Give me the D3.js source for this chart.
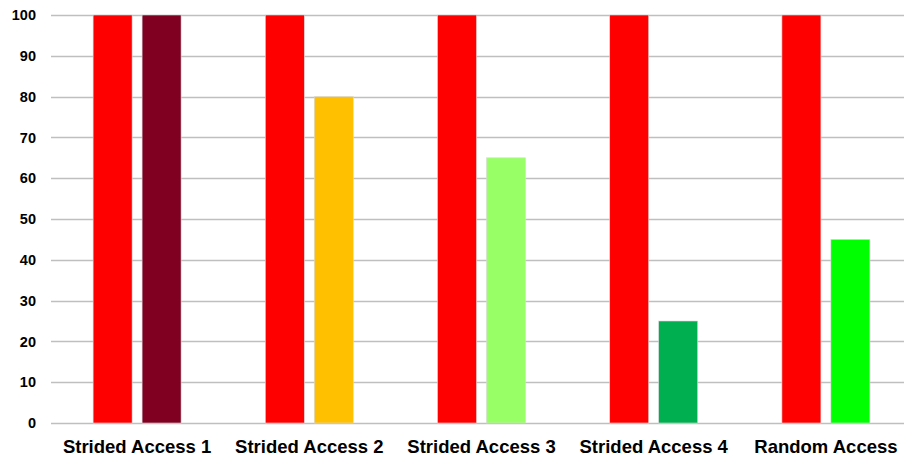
<!DOCTYPE html>
<html>
<head>
<meta charset="utf-8">
<script src="https://cdn.jsdelivr.net/npm/d3@7"></script>
<style>
  html, body { margin: 0; padding: 0; background: #fff; }
  svg { display: block; font-family: "Liberation Sans", Arial, sans-serif; }
</style>
</head>
<body>
<svg id="chart" width="904" height="457"></svg>
<script>
// Access patterns along the x axis
const categories = ["Strided Access 1", "Strided Access 2", "Strided Access 3", "Strided Access 4", "Random Access"];
// Baseline (always 100) and the measured value per pattern
const baselineValues = [100, 100, 100, 100, 100];
const measuredValues = [100, 80, 65, 25, 45];
// Colour of the measured bar for each pattern
const measuredColors = ["#7f0021", "#ffc000", "#99ff66", "#00b050", "#00ff00"];
const yTicks = [0, 10, 20, 30, 40, 50, 60, 70, 80, 90, 100];

const svg = d3.select("#chart");
const margin = { left: 51, right: -8, top: 15, bottom: 34 };
const W = 904, H = 457;
const innerW = W - margin.left - margin.right;
const innerH = H - margin.top - margin.bottom;

const x = d3.scaleBand().domain(categories).range([margin.left, margin.left + innerW]).padding(0);
const y = d3.scaleLinear().domain([0, 100]).range([margin.top + innerH, margin.top]);

// Horizontal gridlines
svg.append("g")
  .selectAll("line")
  .data(yTicks)
  .join("line")
  .attr("x1", margin.left)
  .attr("x2", W)
  .attr("y1", d => Math.round(y(d)) + 0.5)
  .attr("y2", d => Math.round(y(d)) + 0.5)
  .attr("stroke", "#bfbfbf")
  .attr("stroke-width", 1.3);

// Y axis tick labels
const yAxis = d3.axisLeft(y).tickValues(yTicks).tickSize(0).tickPadding(15);
svg.append("g")
  .attr("transform", `translate(${margin.left},0)`)
  .call(yAxis)
  .call(g => g.select(".domain").remove())
  .call(g => g.selectAll("text")
    .attr("font-family", "Liberation Sans, Arial, sans-serif")
    .attr("font-size", 14.5)
    .attr("font-weight", "bold")
    .attr("fill", "#000"));

// Bars inside each group
const inner = d3.scaleBand().domain(["base", "measured"]).range([0, x.bandwidth()]).paddingInner(0.204).paddingOuter(0.86);

const rows = categories.map((c, i) => ({ c, base: baselineValues[i], measured: measuredValues[i], color: measuredColors[i] }));

const groups = svg.append("g").selectAll("g").data(rows).join("g")
  .attr("transform", d => `translate(${x(d.c)},0)`);

groups.append("rect")
  .attr("x", inner("base"))
  .attr("width", inner.bandwidth())
  .attr("y", d => y(d.base))
  .attr("height", d => y(0) - y(d.base))
  .attr("fill", "#ff0000")
  .attr("stroke", "#d9d9d9")
  .attr("stroke-width", 0.6);

groups.append("rect")
  .attr("x", inner("measured"))
  .attr("width", inner.bandwidth())
  .attr("y", d => y(d.measured))
  .attr("height", d => y(0) - y(d.measured))
  .attr("fill", d => d.color)
  .attr("stroke", "#d9d9d9")
  .attr("stroke-width", 0.6);

// Category labels
const xAxis = d3.axisBottom(x).tickSize(0).tickPadding(16.5);
svg.append("g")
  .attr("transform", `translate(0,${margin.top + innerH})`)
  .call(xAxis)
  .call(g => g.select(".domain").remove())
  .call(g => g.selectAll("text")
    .attr("font-family", "Liberation Sans, Arial, sans-serif")
    .attr("font-size", 18.5)
    .attr("font-weight", "bold")
    .attr("fill", "#000"));
</script>
</body>
</html>
